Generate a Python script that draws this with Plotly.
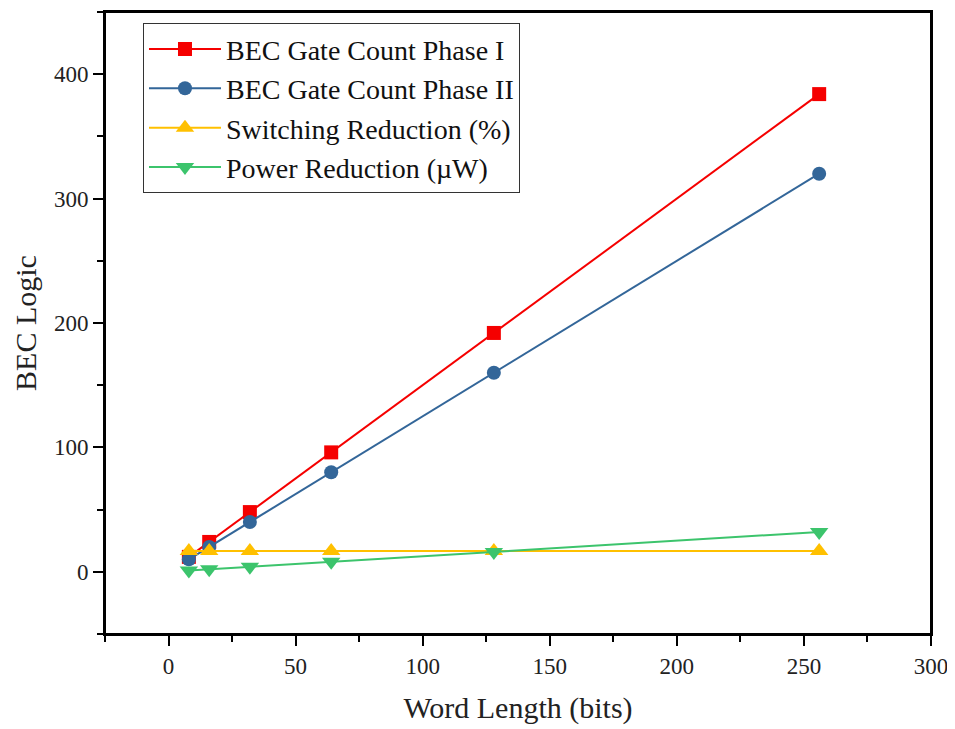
import plotly.graph_objects as go

word_length = [8, 16, 32, 64, 128, 256]
gate_phase1 = [12, 24, 48, 96, 192, 384]
gate_phase2 = [10, 20, 40, 80, 160, 320]
switching_red = [16.7, 16.7, 16.7, 16.7, 16.7, 16.7]
power_red = [1, 2, 4, 8, 16, 32]

series = [
    ("BEC Gate Count Phase I", gate_phase1, "#F50000", "square", 14),
    ("BEC Gate Count Phase II", gate_phase2, "#336699", "circle", 14),
    ("Switching Reduction (%)", switching_red, "#FFC000", "triangle-up", 16),
    ("Power Reduction (\u00b5W)", power_red, "#3CC46C", "triangle-down", 16),
]

fig = go.Figure()
for name, vals, color, sym, sz in series:
    fig.add_trace(go.Scatter(
        x=word_length, y=vals, name=name, mode="lines+markers",
        line=dict(color=color, width=2),
        marker=dict(symbol=sym, size=sz, color=color),
    ))

font = "Liberation Serif, Times New Roman, serif"
axis_common = dict(
    showline=True, linecolor="black", linewidth=2, mirror=True,
    ticks="outside", ticklen=10, tickwidth=2, tickcolor="black",
    showgrid=False, zeroline=False,
    tickfont=dict(family=font, size=23, color="#222"),
    title_font=dict(family=font, size=30, color="#222"),
)
fig.update_xaxes(range=[-25, 300], tickvals=[0, 50, 100, 150, 200, 250, 300],
                 minor=dict(ticks="outside", ticklen=6, tickwidth=2, tickcolor="black", dtick=25, tick0=0),
                 title_text="Word Length (bits)", title_standoff=22, **axis_common)
fig.update_yaxes(range=[-50, 450], tickvals=[0, 100, 200, 300, 400],
                 minor=dict(ticks="outside", ticklen=6, tickwidth=2, tickcolor="black", dtick=50, tick0=0),
                 title_text="BEC Logic", title_standoff=8, **axis_common)

fig.add_shape(type="rect", xref="paper", yref="paper", x0=0, x1=1, y0=0, y1=1,
              line=dict(color="black", width=2), layer="above")

fig.update_layout(
    width=947, height=717,
    margin=dict(l=97, r=24, t=4, b=91, autoexpand=False),
    plot_bgcolor="white", paper_bgcolor="white",
    legend=dict(x=0.046, y=0.982, xanchor="left", yanchor="top",
                bordercolor="#333", borderwidth=1, bgcolor="white",
                font=dict(family=font, size=28, color="#111"),
                itemwidth=72, tracegroupgap=0),
    showlegend=True,
)
fig.write_html("out.html")
